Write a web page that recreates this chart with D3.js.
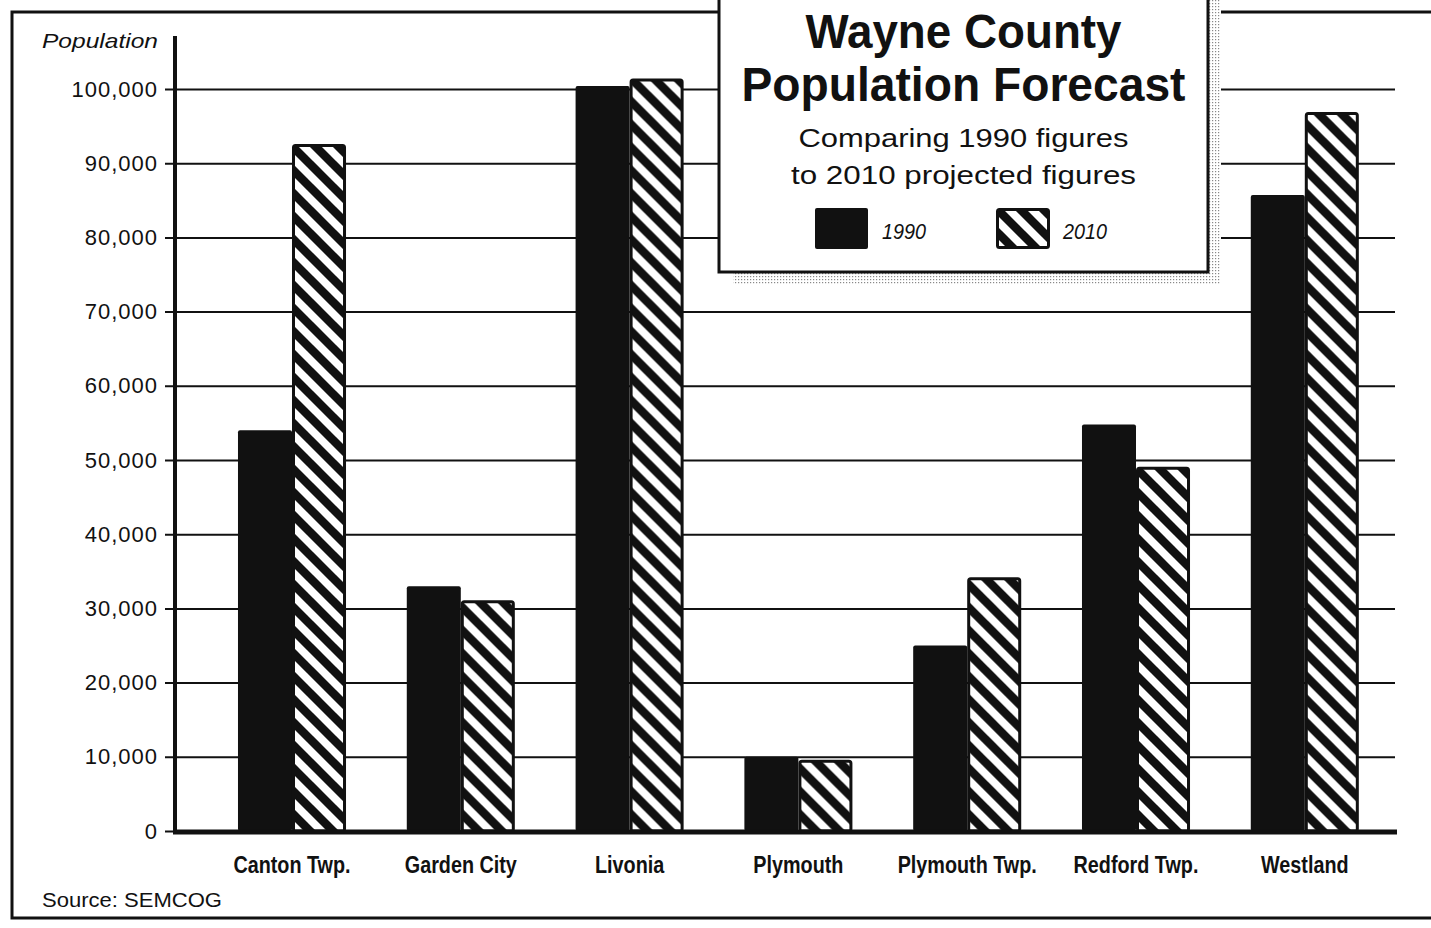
<!DOCTYPE html>
<html>
<head>
<meta charset="utf-8">
<script src="https://cdn.jsdelivr.net/npm/d3@7"></script>
<style>
  html, body { margin: 0; padding: 0; background: #fff; }
  svg { display: block; }
  .sans { font-family: "Liberation Sans", Arial, Helvetica, sans-serif; }
</style>
</head>
<body>
<svg id="chart" width="1431" height="928"></svg>
<script>
//

const places = ['Canton Twp.', 'Garden City', 'Livonia', 'Plymouth', 'Plymouth Twp.', 'Redford Twp.', 'Westland']
const pop1990 = [54000, 33000, 100400, 10000, 25000, 54800, 85700]
const pop2010 = [92400, 30900, 101200, 9400, 34000, 48900, 96700]
const years = ['1990', '2010']
const yTicks = [0, 10000, 20000, 30000, 40000, 50000, 60000, 70000, 80000, 90000, 100000]

//

const svg = d3.select('#chart')
const ink = '#111'
const condense = 0.86 // fake Helvetica Condensed

const y = d3.scaleLinear()
  .domain([0, 100000])
  .range([831, 89])

const x = d3.scaleBand()
  .domain(places)
  .range([207.6, 1389.2])
  .paddingInner(0.36)
  .paddingOuter(0.18)

const xYear = d3.scaleBand()
  .domain(years)
  .range([0, x.bandwidth()])

// patterns

const defs = svg.append('defs')

const s = 23
const hatch = defs.append('pattern')
  .attr('id', 'hatch')
  .attr('patternUnits', 'userSpaceOnUse')
  .attr('width', s)
  .attr('height', s)
hatch.append('rect').attr('width', s).attr('height', s).attr('fill', '#fff')
hatch.append('path')
  .attr('d', `M-5,-5L${s + 5},${s + 5}M${s - 5},-5L${s + 5},5M-5,${s - 5}L5,${s + 5}`)
  .attr('stroke', ink)
  .attr('stroke-width', 8.5)

const stipple = defs.append('pattern')
  .attr('id', 'stipple')
  .attr('patternUnits', 'userSpaceOnUse')
  .attr('width', 3)
  .attr('height', 3)
stipple.append('rect').attr('width', 3).attr('height', 3).attr('fill', '#fff')
stipple.append('rect').attr('width', 1.2).attr('height', 1.2).attr('fill', '#888')

// frame

svg.append('path')
  .attr('d', 'M1440,12H12V918H1440')
  .attr('fill', 'none')
  .attr('stroke', ink)
  .attr('stroke-width', 3)

// grid + axis

const yAxis = d3.axisLeft(y)
  .tickValues(yTicks)
  .tickFormat(d3.format(','))
  .tickSizeInner(-(1395 - 175))
  .tickSizeOuter(0)
  .tickPadding(17)

const axisG = svg.append('g')
  .attr('transform', 'translate(175,0)')
  .call(yAxis)

axisG.select('.domain').remove()
axisG.selectAll('.tick line')
  .attr('x1', -10)
  .attr('stroke', ink)
  .attr('stroke-width', 2)
axisG.selectAll('.tick text')
  .attr('class', 'sans')
  .attr('font-size', 22)
  .attr('letter-spacing', 1)
  .attr('fill', ink)
  .attr('x', -17)

svg.append('text')
  .attr('class', 'sans')
  .attr('x', 42)
  .attr('y', 48)
  .attr('font-size', 21)
  .attr('font-style', 'italic')
  .attr('textLength', 116)
  .attr('lengthAdjust', 'spacingAndGlyphs')
  .attr('fill', ink)
  .text('Population')

// bars

const rows = places.map((p, i) => ({ place: p, values: [pop1990[i], pop2010[i]] }))

const groups = svg.append('g')
  .selectAll('g')
  .data(rows)
  .join('g')
  .attr('transform', (d) => `translate(${x(d.place)},0)`)

groups.selectAll('rect')
  .data((d) => d.values.map((v, j) => ({ year: years[j], value: v })))
  .join('rect')
  .attr('x', (d) => xYear(d.year) + (d.year === '2010' ? 1.5 : 0))
  .attr('y', (d) => y(d.value))
  .attr('width', (d) => xYear.bandwidth() - (d.year === '2010' ? 3 : 0))
  .attr('height', (d) => y(0) - y(d.value))
  .attr('rx', 2)
  .attr('fill', (d) => d.year === '1990' ? ink : 'url(#hatch)')
  .attr('stroke', (d) => d.year === '1990' ? 'none' : ink)
  .attr('stroke-width', 3)

// baseline + vertical axis line

svg.append('line')
  .attr('x1', 173).attr('x2', 1397)
  .attr('y1', y(0) + 1).attr('y2', y(0) + 1)
  .attr('stroke', ink)
  .attr('stroke-width', 5)

svg.append('line')
  .attr('x1', 175).attr('x2', 175)
  .attr('y1', 36).attr('y2', y(0) + 2)
  .attr('stroke', ink)
  .attr('stroke-width', 4)

// category labels

svg.append('g')
  .selectAll('text')
  .data(places)
  .join('text')
  .attr('class', 'sans')
  .attr('transform', (d) => `translate(${x(d) + x.bandwidth() / 2},873) scale(${condense},1)`)
  .attr('text-anchor', 'middle')
  .attr('font-size', 23)
  .attr('font-weight', 'bold')
  .attr('fill', ink)
  .text((d) => d)

svg.append('text')
  .attr('class', 'sans')
  .attr('x', 42)
  .attr('y', 907)
  .attr('font-size', 20)
  .attr('textLength', 180)
  .attr('lengthAdjust', 'spacingAndGlyphs')
  .attr('fill', ink)
  .text('Source: SEMCOG')

// title box

const box = { x0: 719, x1: 1208, y0: -10, y1: 272 }

svg.append('rect')
  .attr('x', box.x0 + 14)
  .attr('y', box.y0)
  .attr('width', box.x1 - box.x0 - 1)
  .attr('height', box.y1 - box.y0 + 13)
  .attr('fill', 'url(#stipple)')

svg.append('rect')
  .attr('x', box.x0)
  .attr('y', box.y0)
  .attr('width', box.x1 - box.x0)
  .attr('height', box.y1 - box.y0)
  .attr('fill', '#fff')
  .attr('stroke', ink)
  .attr('stroke-width', 3)

const cx = (box.x0 + box.x1) / 2

const titleLines = [
  { text: 'Wayne County', y: 48, len: 316 },
  { text: 'Population Forecast', y: 101, len: 444 }
]
svg.append('g')
  .selectAll('text')
  .data(titleLines)
  .join('text')
  .attr('class', 'sans')
  .attr('x', cx)
  .attr('y', (d) => d.y)
  .attr('text-anchor', 'middle')
  .attr('font-size', 49)
  .attr('font-weight', 'bold')
  .attr('textLength', (d) => d.len)
  .attr('lengthAdjust', 'spacingAndGlyphs')
  .attr('fill', ink)
  .text((d) => d.text)

const subLines = [
  { text: 'Comparing 1990 figures', y: 147, len: 330 },
  { text: 'to 2010 projected figures', y: 184, len: 345 }
]
svg.append('g')
  .selectAll('text')
  .data(subLines)
  .join('text')
  .attr('class', 'sans')
  .attr('x', cx)
  .attr('y', (d) => d.y)
  .attr('text-anchor', 'middle')
  .attr('font-size', 26)
  .attr('textLength', (d) => d.len)
  .attr('lengthAdjust', 'spacingAndGlyphs')
  .attr('fill', ink)
  .text((d) => d.text)

// legend

const legendX = [815, 996]
const legend = svg.append('g')
  .selectAll('g')
  .data(years)
  .join('g')
  .attr('transform', (d, i) => `translate(${legendX[i]},208)`)

legend.append('rect')
  .attr('x', (d) => d === '2010' ? 1.5 : 0)
  .attr('y', (d) => d === '2010' ? 1.5 : 0)
  .attr('width', (d) => d === '2010' ? 51 : 53)
  .attr('height', (d) => d === '2010' ? 38 : 41)
  .attr('rx', 2)
  .attr('fill', (d) => d === '1990' ? ink : 'url(#hatch)')
  .attr('stroke', (d) => d === '1990' ? 'none' : ink)
  .attr('stroke-width', 3)

legend.append('text')
  .attr('class', 'sans')
  .attr('transform', 'translate(67,31) scale(0.9,1)')
  .attr('font-size', 22)
  .attr('font-style', 'italic')
  .attr('fill', ink)
  .text((d) => d)
</script>
</body>
</html>
